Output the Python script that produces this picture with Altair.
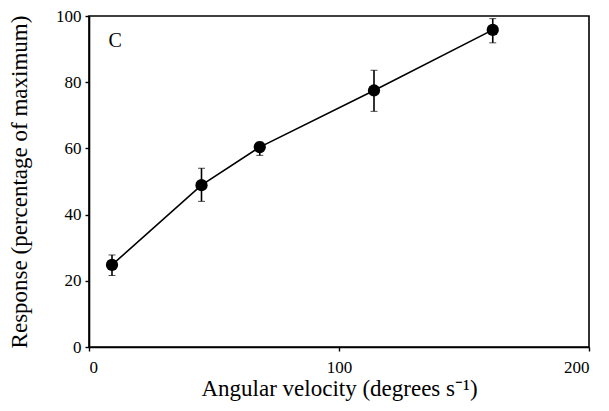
import altair as alt
import pandas as pd

velocity = [9.2, 45.0, 68.3, 114.0, 161.5]
response = [24.8, 48.9, 60.4, 77.5, 95.8]
err_low = [21.6, 44.0, 57.9, 71.2, 91.9]
err_high = [27.8, 54.0, 61.9, 83.6, 99.2]

df = pd.DataFrame({"v": velocity, "r": response, "lo": err_low, "hi": err_high})

FONT = "Liberation Serif"
xs = alt.Scale(domain=[0, 200], nice=False)
ys = alt.Scale(domain=[0, 100], nice=False)

base = alt.Chart(df)

x_enc = alt.X("v:Q", scale=xs, axis=alt.Axis(values=[0, 100, 200], title="Angular velocity (degrees s\u207b\u00b9)"))
y_enc = alt.Y("r:Q", scale=ys, axis=alt.Axis(values=[0, 20, 40, 60, 80, 100], title="Response (percentage of maximum)"))

line = base.mark_line(color="black", strokeWidth=1.6).encode(x=x_enc, y=y_enc)
pts = base.mark_circle(color="black", opacity=1, size=150).encode(x="v:Q", y="r:Q")
err = base.mark_errorbar(color="black", ticks=alt.MarkConfig(size=7, strokeWidth=1.6), rule=alt.MarkConfig(strokeWidth=1.6)).encode(
    x="v:Q", y=alt.Y("lo:Q", title=""), y2="hi:Q"
)
label = alt.Chart(pd.DataFrame({"t": ["C"], "x": [10.5], "y": [92.5]})).mark_text(
    font=FONT, fontSize=20, color="black"
).encode(x="x:Q", y="y:Q", text="t:N")

chart = (line + err + pts + label).properties(
    width=500, height=331,
    autosize=alt.AutoSizeParams(type="none"),
    padding={"left": 81, "top": 8, "right": 10, "bottom": 55},
).configure_view(stroke="black", strokeWidth=1.6).configure_axis(
    grid=False, domainColor="black", domainWidth=1.6, tickColor="black", tickWidth=1.4,
    labelFont=FONT, labelFontSize=17, labelColor="black",
    titleFont=FONT, titleFontWeight="normal", titleColor="black",
).configure_axisX(titlePadding=2, tickSize=4, labelPadding=8, titleFontSize=23).configure_axisY(
    titlePadding=24, tickSize=4, labelPadding=4, titleFontSize=23)

chart.save("out.html", embed_options={"renderer": "svg", "actions": False})
